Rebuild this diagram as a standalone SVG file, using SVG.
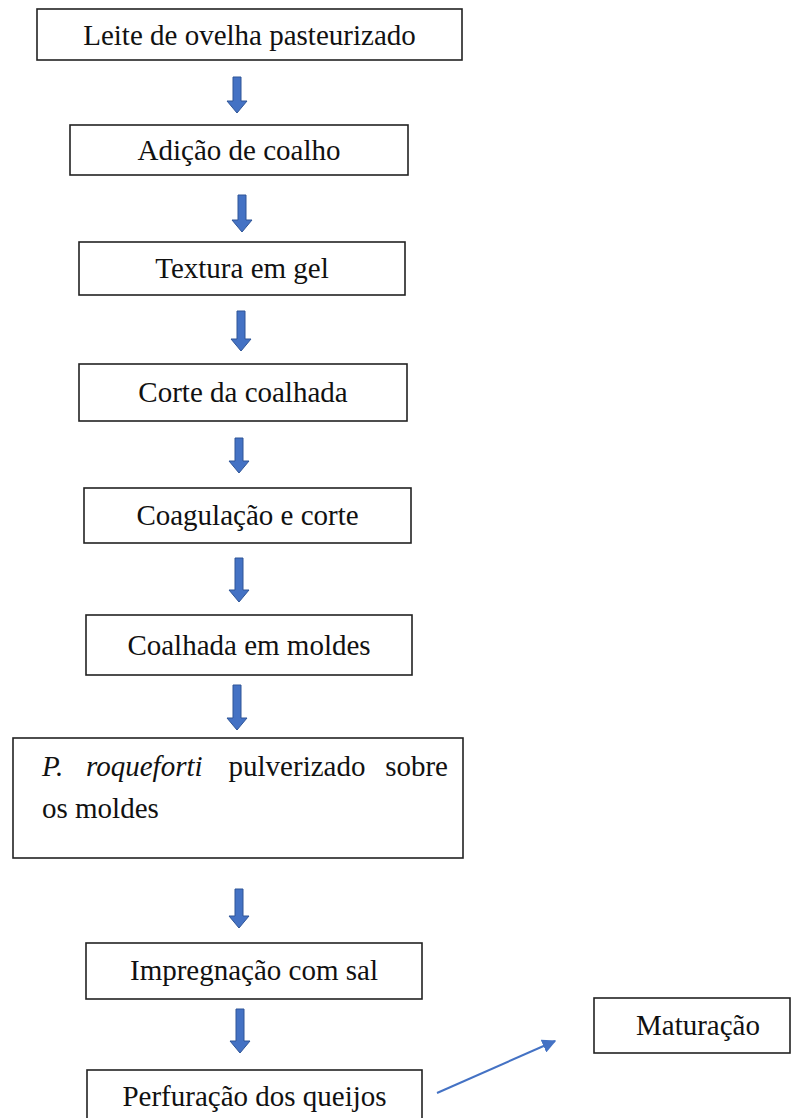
<svg xmlns="http://www.w3.org/2000/svg" width="791" height="1118" viewBox="0 0 791 1118">
<defs>
<style>
.box{fill:#fff;stroke:#222;stroke-width:1.6}
.t{font-family:"Liberation Serif","Times New Roman",serif;font-size:29px;fill:#111;text-anchor:middle}
.tl{font-family:"Liberation Serif","Times New Roman",serif;font-size:29px;fill:#111}
.blk{fill:#4472C4;stroke:#2F5597;stroke-width:1}
.ln{stroke:#4472C4;stroke-width:2;fill:none}
</style>
<marker id="ah" viewBox="0 0 10 10" refX="9" refY="5" markerWidth="7" markerHeight="7" orient="auto" markerUnits="strokeWidth">
<path d="M0,0 L10,5 L0,10 Z" fill="#4472C4"/>
</marker>
</defs>
<rect width="791" height="1118" fill="#fff"/>
<g id="connectors">
<path class="blk" d="M233,77 H241 V101 H247 L237,113 L227,101 H233 Z"/>
<path class="blk" d="M238,195 H246 V220 H252 L242,232 L232,220 H238 Z"/>
<path class="blk" d="M237,311 H245 V339 H251 L241,351 L231,339 H237 Z"/>
<path class="blk" d="M235,438 H243 V461 H249 L239,473 L229,461 H235 Z"/>
<path class="blk" d="M235,558 H243 V590 H249 L239,602 L229,590 H235 Z"/>
<path class="blk" d="M233,685 H241 V718 H247 L237,730 L227,718 H233 Z"/>
<path class="blk" d="M235,889 H243 V916 H249 L239,928 L229,916 H235 Z"/>
<path class="blk" d="M236,1009 H244 V1041 H250 L240,1053 L230,1041 H236 Z"/>
<line class="ln" x1="437" y1="1093" x2="555" y2="1041" marker-end="url(#ah)"/>
</g>
<g id="n1"><rect class="box" x="37" y="9" width="425" height="51"/><text class="t" x="249.5" y="45">Leite de ovelha pasteurizado</text></g>
<g id="n2"><rect class="box" x="70" y="125" width="338" height="50"/><text class="t" x="239" y="160">Adição de coalho</text></g>
<g id="n3"><rect class="box" x="79" y="242" width="326" height="53"/><text class="t" x="242" y="278">Textura em gel</text></g>
<g id="n4"><rect class="box" x="79" y="364" width="328" height="57"/><text class="t" x="243" y="402">Corte da coalhada</text></g>
<g id="n5"><rect class="box" x="84" y="488" width="327" height="55"/><text class="t" x="247.5" y="525">Coagulação e corte</text></g>
<g id="n6"><rect class="box" x="86" y="615" width="326" height="60"/><text class="t" x="249" y="655">Coalhada em moldes</text></g>
<g id="n7"><rect class="box" x="13" y="738" width="450" height="120"/>
<text class="tl" x="42" y="776" font-style="italic">P.</text>
<text class="tl" x="86" y="776" font-style="italic">roqueforti</text>
<text class="t" x="297" y="776">pulverizado</text>
<text class="tl" x="448" y="776" text-anchor="end">sobre</text>
<text class="tl" x="42" y="818">os moldes</text></g>
<g id="n8"><rect class="box" x="86" y="943" width="336" height="56"/><text class="t" x="254" y="980">Impregnação com sal</text></g>
<g id="n9"><rect class="box" x="87" y="1070" width="335" height="70"/><text class="t" x="254.5" y="1106">Perfuração dos queijos</text></g>
<g id="n10"><rect class="box" x="594" y="998" width="196" height="55"/><text class="t" x="698" y="1035">Maturação</text></g>
</svg>
